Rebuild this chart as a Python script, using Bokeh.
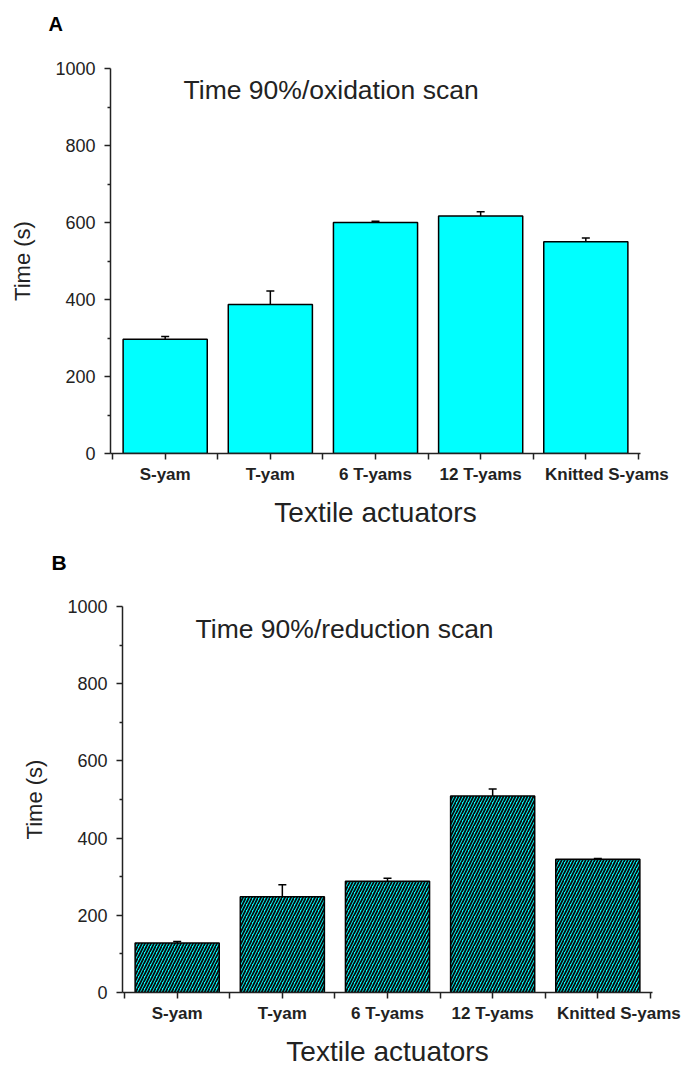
from bokeh.plotting import figure
from bokeh.models import ColumnDataSource, Range1d, FixedTicker, Whisker, TeeHead, Label
from bokeh.embed import file_html
from bokeh.resources import INLINE

# ---- data ----
categories = ["S-yam", "T-yam", "6 T-yams", "12 T-yams", "Knitted S-yams"]
ox_time = [297, 387, 600, 617, 550]
ox_err = [7, 35, 3, 11, 10]
red_time = [128, 248, 288, 509, 345]
red_err = [4, 31, 8, 18, 2]
y_ticks = [0, 200, 400, 600, 800, 1000]
y_minor = [100, 300, 500, 700, 900]
panel_titles = ["Time 90%/oxidation scan", "Time 90%/reduction scan"]
panel_letters = ["A", "B"]
x_title = "Textile actuators"
y_title = "Time (s)"

FONT = "Liberation Sans"
TXT = "#222222"


def make_letter(letter, lx, ly, size):
    """A thin strip that only carries the panel letter."""
    f = figure(width=684, height=40, output_backend="svg", toolbar_location=None,
               x_range=Range1d(0, 684), y_range=Range1d(40, 0),
               min_border_left=0, min_border_right=0, min_border_top=0, min_border_bottom=0)
    f.axis.visible = False
    f.grid.visible = False
    f.outline_line_color = None
    f.add_layout(Label(x=lx, y=ly, text=letter, text_font=FONT, text_font_size=size,
                       text_font_style="bold", text_color="black",
                       text_baseline="top"))
    return f


def make_panel(values, errors, title, hatched, left, right, top, bottom, height):
    pos = list(range(1, len(categories) + 1))
    # the last label sits a little right of its tick in the reference
    label_pos = pos[:-1] + [pos[-1] + 0.2]
    src = ColumnDataSource(dict(
        x=pos, top=values,
        upper=[v + e for v, e in zip(values, errors)],
        lower=[v - e for v, e in zip(values, errors)],
    ))
    p = figure(width=684, height=height, output_backend="svg", toolbar_location=None,
               x_range=Range1d(0.48, 5.52), y_range=Range1d(0, 1000),
               min_border_left=left, min_border_right=right,
               min_border_top=top, min_border_bottom=bottom)
    p.outline_line_color = None
    p.xgrid.visible = False
    p.ygrid.visible = False
    p.background_fill_color = "white"

    if hatched:
        p.vbar(x="x", top="top", width=0.8, source=src, fill_color="#00FFFF",
               line_color="black", line_width=1.5,
               hatch_pattern="/", hatch_color="#0a0a0a", hatch_scale=6, hatch_weight=1.8)
    else:
        p.vbar(x="x", top="top", width=0.8, source=src, fill_color="#00FFFF",
               line_color="black", line_width=1.5)

    w = Whisker(base="x", upper="upper", lower="lower", source=src,
                line_color="black", line_width=1.5,
                upper_head=TeeHead(size=8, line_width=1.5, line_color="black"),
                lower_head=TeeHead(size=8, line_width=1.5, line_color="black"))
    p.add_layout(w)

    # x axis: labels via (invisible) major ticks, tick marks via minor ticks
    xa = p.xaxis[0]
    minor = sorted(pos + [0.5, 1.5, 2.5, 3.5, 4.5, 5.5])
    xa.ticker = FixedTicker(ticks=label_pos, minor_ticks=minor)
    xa.major_label_overrides = {lp: c for lp, c in zip(label_pos, categories)}
    xa.major_tick_out = 0
    xa.major_tick_in = 0
    xa.major_tick_line_color = None
    xa.minor_tick_out = 6
    xa.minor_tick_in = 0
    xa.major_label_standoff = 5
    xa.major_label_text_font = FONT
    xa.major_label_text_font_size = "17px"
    xa.major_label_text_font_style = "bold"
    xa.major_label_text_color = TXT
    xa.axis_line_width = 1.5
    xa.axis_line_color = TXT
    xa.minor_tick_line_width = 1.5
    xa.minor_tick_line_color = TXT
    xa.axis_label = x_title
    xa.axis_label_text_font = FONT
    xa.axis_label_text_font_size = "28px"
    xa.axis_label_text_font_style = "normal"
    xa.axis_label_text_color = TXT
    xa.axis_label_standoff = 10

    # y axis
    ya = p.yaxis[0]
    ya.ticker = FixedTicker(ticks=y_ticks, minor_ticks=y_minor)
    ya.major_tick_out = 6
    ya.major_tick_in = 0
    ya.minor_tick_out = 3
    ya.minor_tick_in = 0
    ya.major_label_standoff = 9
    ya.major_label_text_font = FONT
    ya.major_label_text_font_size = "18px"
    ya.major_label_text_color = TXT
    ya.axis_line_width = 1.5
    ya.axis_line_color = TXT
    ya.major_tick_line_width = 1.5
    ya.minor_tick_line_width = 1.5
    ya.major_tick_line_color = TXT
    ya.minor_tick_line_color = TXT
    ya.axis_label = y_title
    ya.axis_label_text_font = FONT
    ya.axis_label_text_font_size = "22px"
    ya.axis_label_text_font_style = "normal"
    ya.axis_label_text_color = TXT
    ya.axis_label_standoff = 17

    p.add_layout(Label(x=1.175, y=943, text=title, text_font=FONT,
                       text_font_size="26.5px", text_color=TXT,
                       text_baseline="alphabetic"))
    return p


letA = make_letter(panel_letters[0], 48, 12, "20px")
pA = make_panel(ox_time, ox_err, panel_titles[0], False,
                left=110, right=44, top=28, bottom=87, height=500)
letB = make_letter(panel_letters[1], 51, 10, "21px")
pB = make_panel(red_time, red_err, panel_titles[1], True,
                left=122, right=32, top=26, bottom=78, height=490)

open("out.html", "w").write(file_html([letA, pA, letB, pB], INLINE))
